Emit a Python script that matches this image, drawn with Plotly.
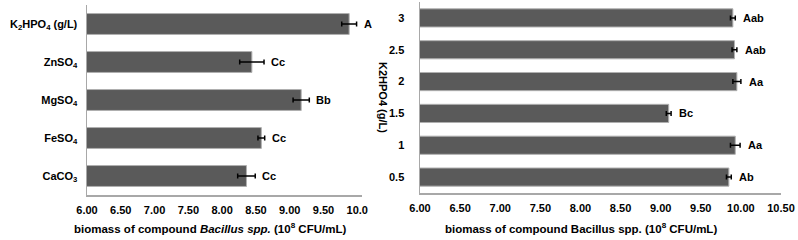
import plotly.graph_objects as go

# Left panel data (top to bottom)
left_cats = ["K<sub>2</sub>HPO<sub>4</sub> (g/L)", "ZnSO<sub>4</sub>", "MgSO<sub>4</sub>", "FeSO<sub>4</sub>", "CaCO<sub>3</sub>"]
left_vals = [9.88, 8.44, 9.17, 8.58, 8.36]
left_errs = [0.11, 0.18, 0.12, 0.05, 0.13]
left_letters = ["A", "Cc", "Bb", "Cc", "Cc"]
left_ticks = [6.0, 6.5, 7.0, 7.5, 8.0, 8.5, 9.0, 9.5, 10.0]
left_ticktext = ["6.00", "6.50", "7.00", "7.50", "8.00", "8.50", "9.00", "9.50", "10.0"]

# Right panel data (top to bottom)
right_cats = ["3", "2.5", "2", "1.5", "1", "0.5"]
right_vals = [9.90, 9.92, 9.95, 9.10, 9.93, 9.85]
right_errs = [0.03, 0.03, 0.05, 0.03, 0.06, 0.03]
right_letters = ["Aab", "Aab", "Aa", "Bc", "Aa", "Ab"]
right_ticks = [6.0, 6.5, 7.0, 7.5, 8.0, 8.5, 9.0, 9.5, 10.0, 10.5]
right_ticktext = ["6.00", "6.50", "7.00", "7.50", "8.00", "8.50", "9.00", "9.50", "10.00", "10.50"]

FONT = "Liberation Sans, Arial, sans-serif"
W, H = 798, 240
BAR = "#5a5a5a"
AX = "#a8a8a8"

fig = go.Figure()
fig.add_trace(go.Bar(
    x=left_vals, y=left_cats, orientation="h", width=0.55,
    marker=dict(color=BAR, line=dict(color="#b0b0b0", width=1)),
    error_x=dict(type="data", array=left_errs, color="black", thickness=1.5, width=2.5),
    xaxis="x", yaxis="y", showlegend=False, hoverinfo="skip"))
fig.add_trace(go.Bar(
    x=right_vals, y=right_cats, orientation="h", width=0.57,
    marker=dict(color=BAR, line=dict(color="#b0b0b0", width=1)),
    error_x=dict(type="data", array=right_errs, color="black", thickness=1.5, width=2.5),
    xaxis="x2", yaxis="y2", showlegend=False, hoverinfo="skip"))

lf = dict(family=FONT, size=11, color="black", weight="bold")
tf = dict(family=FONT, size=11.5, color="black", weight="bold")
annotations = []
for i, (v, e, t) in enumerate(zip(left_vals, left_errs, left_letters)):
    annotations.append(dict(x=v + e, y=i, xref="x", yref="y", text=t, showarrow=False,
                            xanchor="left", xshift=5, font=lf))
for i, (v, e, t) in enumerate(zip(right_vals, right_errs, right_letters)):
    annotations.append(dict(x=v + e, y=i, xref="x2", yref="y2", text=t, showarrow=False,
                            xanchor="left", xshift=6, font=lf))

# axis titles
annotations.append(dict(x=210 / W, y=1 - 228 / H, xref="paper", yref="paper", showarrow=False,
                        text="biomass of compound <i>Bacillus spp.</i> (10<sup>8</sup> CFU/mL)",
                        xanchor="center", yanchor="middle", font=tf))
annotations.append(dict(x=581 / W, y=1 - 228 / H, xref="paper", yref="paper", showarrow=False,
                        text="biomass of compound Bacillus spp. (10<sup>8</sup> CFU/mL)",
                        xanchor="center", yanchor="middle", font=tf))
annotations.append(dict(x=383 / W, y=1 - 97 / H, xref="paper", yref="paper", showarrow=False,
                        text="K2HPO4 (g/L)", textangle=90,
                        xanchor="center", yanchor="middle", font=lf))

tickfont = dict(family=FONT, size=11, color="black", weight="bold")
common = dict(showgrid=False, zeroline=False, showline=True, linecolor=AX, linewidth=1.5,
              ticks="", tickfont=tickfont, automargin=False, fixedrange=True)

fig.update_layout(
    width=W, height=H, margin=dict(l=0, r=0, t=0, b=0),
    paper_bgcolor="white", plot_bgcolor="white",
    xaxis=dict(domain=[87 / W, 362 / W], range=[6, 10.07], tickvals=left_ticks, ticktext=left_ticktext,
               ticklabelstandoff=4, anchor="y", **common),
    yaxis=dict(domain=[1 - 195 / H, 1 - 5 / H], type="category", categoryarray=left_cats,
               range=[4.5, -0.5], ticklabelstandoff=6, anchor="x", **common),
    xaxis2=dict(domain=[420 / W, 781 / W], range=[6, 10.5], tickvals=right_ticks, ticktext=right_ticktext,
                ticklabelstandoff=4, anchor="y2", **common),
    yaxis2=dict(domain=[1 - 193 / H, 1 - 2 / H], type="category", categoryarray=right_cats,
                range=[5.5, -0.5], ticklabelstandoff=12, anchor="x2", **common),
    annotations=annotations,
)

fig.write_html("out.html", config={"displayModeBar": False, "staticPlot": True},
               post_script="document.body.style.margin='0';document.body.style.overflow='hidden';")
